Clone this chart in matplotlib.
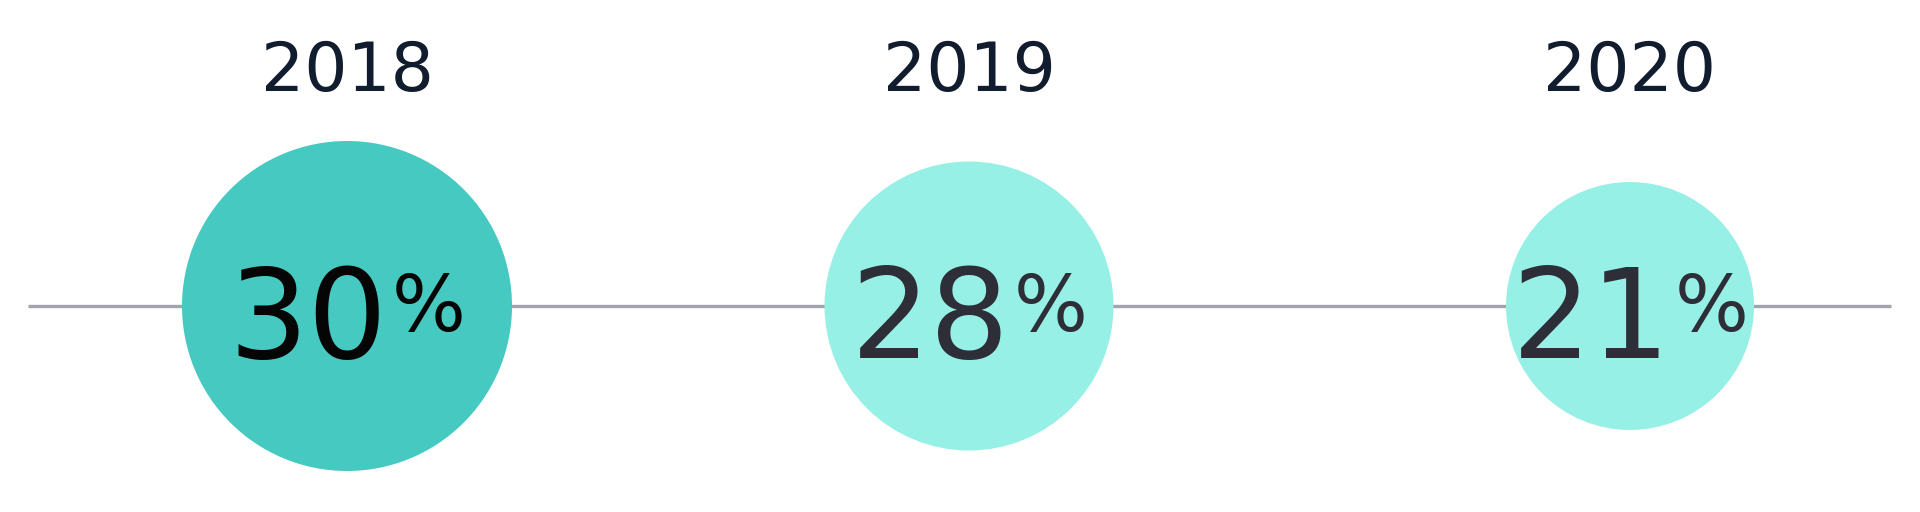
import matplotlib
matplotlib.use('Agg')
import matplotlib.pyplot as plt
import numpy as np

# Data
years = ['2018', '2019', '2020']
shares = [30, 28, 21]

# Layout / style
x_centers = [347, 969, 1630]
y_axis = 306
max_diam = 330
diam_step = 41
circle_colors = ['#45c9c1', '#96f0e5', '#96f0e5']
number_colors = ['#050505', '#2e2e38', '#2e2e38']
year_color = '#111c2e'
line_color = '#a3a3ab'

plt.rcParams['font.family'] = ['DejaVu Sans']

W, H, DPI = 1920, 512, 100
fig = plt.figure(figsize=(W / DPI, H / DPI), dpi=DPI)
ax = fig.add_axes([0, 0, 1, 1])
ax.set_xlim(0, W)
ax.set_ylim(H, 0)
ax.axis('off')

# Baseline
ax.plot([28, 1891], [y_axis, y_axis], color=line_color, lw=2.4, zorder=1,
        solid_capstyle='butt')

# Circle size by rank of value
order = np.argsort(shares)[::-1]
ranks = np.empty(len(shares), dtype=int)
ranks[order] = np.arange(len(shares))
diams = max_diam - ranks * diam_step

for i, (yr, val) in enumerate(zip(years, shares)):
    d_pt = diams[i] * 72 / DPI
    ax.scatter([x_centers[i]], [y_axis], s=d_pt ** 2, color=circle_colors[i],
               edgecolors='none', zorder=2)
    ax.text(x_centers[i], 91, yr, ha='center', va='baseline', fontsize=49,
            color=year_color, zorder=3)

# Value labels: number + smaller percent sign, centred as a group
fig.canvas.draw()
renderer = fig.canvas.get_renderer()
for i, val in enumerate(shares):
    t_num = ax.text(0, 358, str(val), ha='left', va='baseline', fontsize=90,
                    color=number_colors[i], zorder=3)
    t_pct = ax.text(0, 331, '%', ha='left', va='baseline', fontsize=56,
                    color=number_colors[i], zorder=3)
    w_num = t_num.get_window_extent(renderer).width
    w_pct = t_pct.get_window_extent(renderer).width
    gap = 4
    total = w_num + gap + w_pct
    left = x_centers[i] - total / 2
    t_num.set_x(left)
    t_pct.set_x(left + w_num + gap)

fig.savefig('out.png', dpi=DPI, facecolor='white')
plt.close()
